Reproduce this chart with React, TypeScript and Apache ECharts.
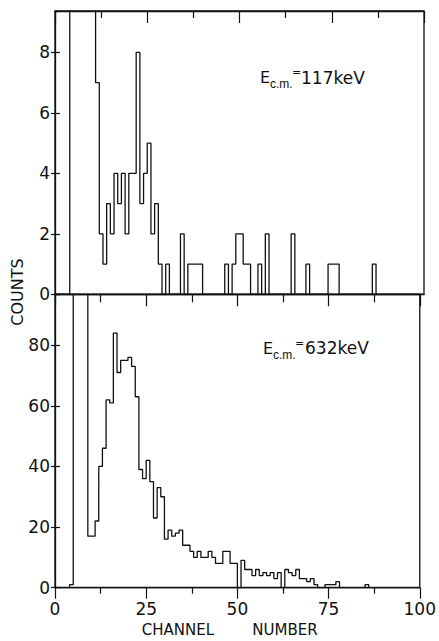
import React, { useEffect, useRef } from "react";
import * as echarts from "echarts";

// Channel numbers 0..99, counts per channel (off-scale bins given a large value)
const channels: number[] = Array.from({ length: 100 }, (_, i) => i);

const countsLow: number[] = [
  0, 0, 0, 0, 30, 30, 30, 30, 30, 30,
  30, 7, 2, 1, 3, 2, 4, 3, 4, 2,
  4, 4, 8, 3, 4, 5, 2, 3, 1, 0,
  1, 0, 0, 0, 2, 0, 1, 1, 1, 1,
  0, 0, 0, 0, 0, 0, 1, 0, 1, 2,
  2, 1, 1, 0, 0, 1, 0, 2, 0, 0,
  0, 0, 0, 0, 2, 0, 0, 0, 1, 0,
  0, 0, 0, 0, 1, 1, 1, 0, 0, 0,
  0, 0, 0, 0, 0, 0, 1, 0, 0, 0,
  0, 0, 0, 0, 0, 0, 0, 0, 0, 0,
];

const countsHigh: number[] = [
  0, 0, 0, 0, 1, 150, 150, 150, 150, 17,
  17, 22, 40, 46, 62, 61, 84, 71, 75, 75,
  76, 73, 63, 39, 36, 42, 35, 23, 33, 30,
  16, 19, 17, 18, 19, 14, 14, 12, 10, 12,
  10, 10, 12, 10, 8, 8, 12, 12, 8, 8,
  0, 9, 6, 6, 4, 6, 4, 5, 4, 5,
  3, 5, 0, 6, 5, 4, 6, 3, 3, 2,
  3, 1, 0, 0, 1, 1, 1, 2, 0, 0,
  0, 0, 0, 0, 0, 1, 0, 0, 0, 0,
  0, 0, 0, 0, 0, 0, 0, 0, 0, 0,
];

const xTicks: number[] = [0, 25, 50, 75, 100];
const yTicksLow: number[] = [0, 2, 4, 6, 8];
const yTicksHigh: number[] = [0, 20, 40, 60, 80];
const yMaxLow = 9.37;
const yMaxHigh = 96.8;

const FONT = "DejaVu Sans, Liberation Sans, sans-serif";
const INK = "#111";

function histData(counts: number[]) {
  const d: [number, number][] = channels.map((c, i) => [c, counts[i]]);
  d.push([channels.length, counts[counts.length - 1]]);
  return d;
}

export default function App() {
  const ref = useRef<HTMLDivElement>(null);
  useEffect(() => {
    if (!ref.current) return;
    const chart = echarts.init(ref.current, undefined, { renderer: "svg" });
    const baseX = {
      type: "value" as const,
      min: xTicks[0],
      max: xTicks[xTicks.length - 1],
      interval: 25,
      splitLine: { show: false },
      axisLine: { show: true, onZero: false, lineStyle: { color: INK, width: 1.3 } },
    };
    const yLabel = {
      color: INK,
      fontFamily: FONT,
      fontSize: 17,
      margin: 5,
      showMaxLabel: false,
    };
    chart.setOption({
      animation: false,
      backgroundColor: "#fff",
      grid: [
        { left: 55, top: 11, width: 369, height: 283.3, show: true, borderColor: INK, borderWidth: 1.3, containLabel: false },
        { left: 55, top: 294.3, width: 369, height: 293.4, show: true, borderColor: INK, borderWidth: 1.3, containLabel: false },
      ],
      xAxis: [
        { ...baseX, gridIndex: 0, position: "bottom", axisTick: { show: false }, axisLabel: { show: false } },
        {
          ...baseX, gridIndex: 0, position: "top",
          axisTick: { show: true, inside: true, length: 12, lineStyle: { color: INK, width: 1.2 } },
          minorTick: { show: true, splitNumber: 2, length: 7, lineStyle: { color: INK, width: 1.2 } },
          axisLabel: { show: false },
        },
        {
          ...baseX, gridIndex: 1, position: "top",
          axisTick: { show: true, inside: true, length: 12, lineStyle: { color: INK, width: 1.2 } },
          minorTick: { show: true, splitNumber: 2, length: 8, lineStyle: { color: INK, width: 1.2 } },
          axisLabel: { show: false },
        },
        {
          ...baseX, gridIndex: 1, position: "bottom",
          axisTick: { show: true, inside: false, length: 11, lineStyle: { color: INK, width: 1.2 } },
          minorTick: { show: true, splitNumber: 2, length: 6, lineStyle: { color: INK, width: 1.2 } },
          axisLabel: { show: true, color: INK, fontFamily: FONT, fontSize: 17, margin: 13 },
        },
      ],
      yAxis: [
        {
          type: "value", gridIndex: 0, position: "left", min: yTicksLow[0], max: yMaxLow, interval: 2,
          splitLine: { show: false },
          axisLine: { show: true, lineStyle: { color: INK, width: 1.3 } },
          axisTick: { show: true, inside: false, length: 4, lineStyle: { color: INK, width: 1.2 } },
          axisLabel: yLabel,
        },
        {
          type: "value", gridIndex: 0, position: "left", min: yTicksLow[0], max: yMaxLow, interval: 2,
          splitLine: { show: false }, axisLine: { show: false },
          axisTick: { show: true, inside: true, length: 5, lineStyle: { color: INK, width: 1.2 } },
          axisLabel: { show: false },
        },
        {
          type: "value", gridIndex: 1, position: "left", min: yTicksHigh[0], max: yMaxHigh, interval: 20,
          splitLine: { show: false },
          axisLine: { show: true, lineStyle: { color: INK, width: 1.3 } },
          axisTick: { show: true, inside: false, length: 4, lineStyle: { color: INK, width: 1.2 } },
          axisLabel: yLabel,
        },
        {
          type: "value", gridIndex: 1, position: "left", min: yTicksHigh[0], max: yMaxHigh, interval: 20,
          splitLine: { show: false }, axisLine: { show: false },
          axisTick: { show: true, inside: true, length: 5, lineStyle: { color: INK, width: 1.2 } },
          axisLabel: { show: false },
        },
      ],
      series: [
        {
          type: "line", step: "end", xAxisIndex: 0, yAxisIndex: 0,
          data: histData(countsLow), showSymbol: false, symbol: "none", clip: true,
          lineStyle: { color: INK, width: 1.3 },
        },
        {
          type: "line", step: "end", xAxisIndex: 3, yAxisIndex: 2,
          data: histData(countsHigh), showSymbol: false, symbol: "none", clip: true,
          lineStyle: { color: INK, width: 1.3 },
        },
      ],
      graphic: [
        { type: "text", x: 260, y: 77.5, style: { text: "E", fill: INK, font: `16px ${FONT}`, textAlign: "left", textVerticalAlign: "middle" } },
        { type: "text", x: 270, y: 84, style: { text: "c.m.", fill: INK, font: `12px Liberation Sans, sans-serif`, textAlign: "left", textVerticalAlign: "middle" } },
        { type: "text", x: 292, y: 72.5, style: { text: "=", fill: INK, font: `11px ${FONT}`, textAlign: "left", textVerticalAlign: "middle" } },
        { type: "text", x: 301, y: 77.5, style: { text: "117keV", fill: INK, font: `17px ${FONT}`, textAlign: "left", textVerticalAlign: "middle" } },

        { type: "text", x: 263, y: 348, style: { text: "E", fill: INK, font: `16px ${FONT}`, textAlign: "left", textVerticalAlign: "middle" } },
        { type: "text", x: 273, y: 354.5, style: { text: "c.m.", fill: INK, font: `12px Liberation Sans, sans-serif`, textAlign: "left", textVerticalAlign: "middle" } },
        { type: "text", x: 295, y: 343, style: { text: "=", fill: INK, font: `11px ${FONT}`, textAlign: "left", textVerticalAlign: "middle" } },
        { type: "text", x: 305, y: 348, style: { text: "632keV", fill: INK, font: `17px ${FONT}`, textAlign: "left", textVerticalAlign: "middle" } },

        { type: "text", x: 17.5, y: 292, rotation: Math.PI / 2, style: { text: "COUNTS", fill: INK, font: `16px ${FONT}`, textAlign: "center", textVerticalAlign: "middle" } },
        { type: "text", x: 178, y: 630, style: { text: "CHANNEL", fill: INK, font: `15px ${FONT}`, textAlign: "center", textVerticalAlign: "middle" } },
        { type: "text", x: 285, y: 630, style: { text: "NUMBER", fill: INK, font: `15px ${FONT}`, textAlign: "center", textVerticalAlign: "middle" } },
      ],
    });
    return () => chart.dispose();
  }, []);
  return (
    <div
      ref={ref}
      style={{ position: "fixed", left: 0, top: 0, width: 439, height: 641, background: "#fff" }}
    />
  );
}
